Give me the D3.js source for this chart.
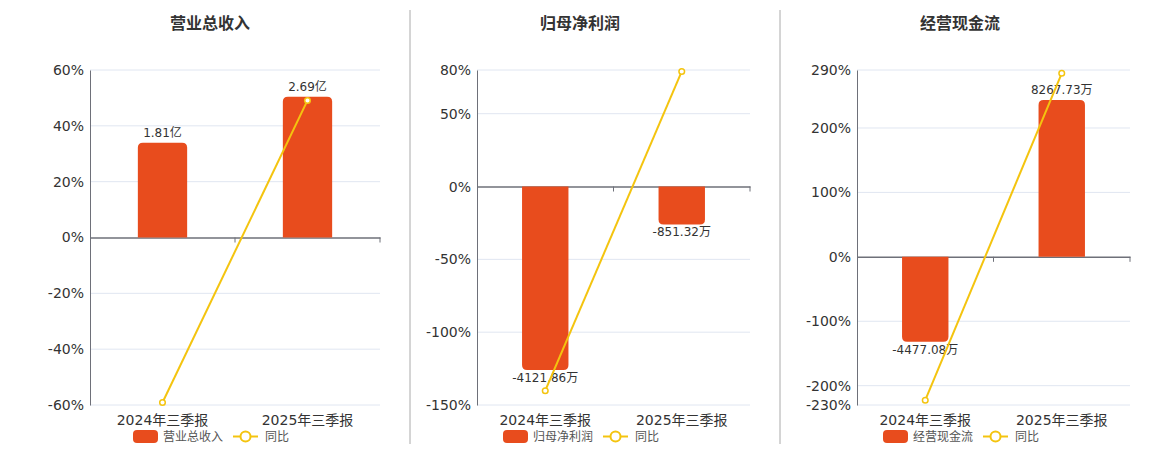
<!DOCTYPE html>
<html lang="zh">
<head>
<meta charset="UTF-8">
<title>财务指标</title>
<script src="https://d3js.org/d3.v7.min.js"></script>
<style>
  body { margin: 0; background: #fff; }
  svg { display: block; font-family: "DejaVu Sans", "Noto Sans CJK SC", sans-serif; }
  .title { font-size: 16px; font-weight: bold; fill: #333; }
  .tick-label { font-size: 14px; fill: #333; }
  .cat-label { font-size: 14px; fill: #333; }
  .val-label { font-size: 12px; fill: #333; }
  .legend-label { font-size: 12px; fill: #555; }
</style>
</head>
<body>
<svg id="chart" width="1160" height="450"></svg>
<script>
// ---- data ----
const categories = ["2024年三季报", "2025年三季报"];
const titles = ["营业总收入", "归母净利润", "经营现金流"];

const revenue = [1.81, 2.69];              // 亿
const netProfit = [-4121.86, -851.32];     // 万
const cashFlow = [-4477.08, 8267.73];      // 万

const revenueLabels = ["1.81亿", "2.69亿"];
const netProfitLabels = ["-4121.86万", "-851.32万"];
const cashFlowLabels = ["-4477.08万", "8267.73万"];

const revenueYoy = [-59.1, 49.1];          // %
const netProfitYoy = [-140.2, 79.0];
const cashFlowYoy = [-222.6, 284.9];

const revenueTicks = [60, 40, 20, 0, -20, -40, -60];
const netProfitTicks = [80, 50, 0, -50, -100, -150];
const cashFlowTicks = [290, 200, 100, 0, -100, -200, -230];

const panels = [
  { title: titles[0], bars: revenue, labels: revenueLabels, yoy: revenueYoy, ticks: revenueTicks,
    left: 90, right: 380, cx: 210 },
  { title: titles[1], bars: netProfit, labels: netProfitLabels, yoy: netProfitYoy, ticks: netProfitTicks,
    left: 477, right: 750, cx: 580 },
  { title: titles[2], bars: cashFlow, labels: cashFlowLabels, yoy: cashFlowYoy, ticks: cashFlowTicks,
    left: 857, right: 1130, cx: 960 }
];

const plotTop = 70, plotBottom = 405;
const barColor = "#e84c1d", lineColor = "#f4c40f";
const axisColor = "#6e7079", gridColor = "#e0e6f1";

const svg = d3.select("#chart");

// separators between panels
[410, 780].forEach(x => {
  svg.append("line").attr("x1", x).attr("x2", x).attr("y1", 10).attr("y2", 444)
    .attr("stroke", "#aaa").attr("stroke-width", 1);
});

function roundedBar(x, w, y0, y1, r) {
  // rounded at the far end (y1) away from zero (y0)
  const up = y1 < y0;
  const h = Math.abs(y1 - y0);
  r = Math.min(r, h / 2, w / 2);
  if (up) {
    return `M${x},${y0}V${y1 + r}Q${x},${y1} ${x + r},${y1}H${x + w - r}Q${x + w},${y1} ${x + w},${y1 + r}V${y0}Z`;
  }
  return `M${x},${y0}V${y1 - r}Q${x},${y1} ${x + r},${y1}H${x + w - r}Q${x + w},${y1} ${x + w},${y1 - r}V${y0}Z`;
}

panels.forEach(p => {
  const g = svg.append("g");
  const yMin = d3.min(p.ticks), yMax = d3.max(p.ticks);
  const y = d3.scaleLinear().domain([yMin, yMax]).range([plotBottom, plotTop]);
  const x = d3.scaleBand().domain(categories).range([p.left, p.right]);

  // bar axis: hidden, zero aligned with the percent axis
  const maxAbs = d3.max(p.bars, d => Math.abs(d));
  const big = p.bars.find(d => Math.abs(d) === maxAbs);
  const side = big >= 0 ? yMax : -yMin;
  const k = maxAbs / (0.84 * side);
  const yb = d3.scaleLinear().domain([yMin * k, yMax * k]).range([plotBottom, plotTop]);

  g.append("text").attr("class", "title").attr("x", p.cx).attr("y", 29)
    .attr("text-anchor", "middle").text(p.title);

  // grid lines
  g.selectAll(".grid").data(p.ticks.filter(t => t !== 0)).join("line")
    .attr("x1", p.left).attr("x2", p.right)
    .attr("y1", d => y(d)).attr("y2", d => y(d))
    .attr("stroke", gridColor).attr("stroke-width", 1);

  // y axis
  const yAxis = d3.axisLeft(y).tickValues(p.ticks).tickSize(0).tickPadding(6).tickFormat(d => d + "%");
  const ya = g.append("g").attr("transform", `translate(${p.left},0)`).call(yAxis);
  ya.select(".domain").attr("stroke", axisColor);
  ya.selectAll("text").attr("class", "tick-label");
  ya.attr("font-family", null).attr("font-size", null);

  // zero line with category ticks
  const x0 = y(0);
  const xAxis = d3.axisBottom(x).tickSize(0).tickFormat("");
  const xa = g.append("g").attr("transform", `translate(0,${x0})`).call(xAxis);
  xa.select(".domain").attr("stroke", axisColor).attr("stroke-width", 1.5);
  xa.selectAll(".tick").remove();
  const bounds = categories.map(c => x(c) + x.bandwidth());
  g.selectAll(".xtick").data(bounds).join("line")
    .attr("x1", d => d).attr("x2", d => d).attr("y1", x0).attr("y2", x0 + 5)
    .attr("stroke", axisColor);

  // category labels
  g.selectAll(".cat").data(categories).join("text")
    .attr("class", "cat-label")
    .attr("x", d => x(d) + x.bandwidth() / 2).attr("y", 425)
    .attr("text-anchor", "middle").text(d => d);

  // bars
  const bw = x.bandwidth() * 0.34;
  g.selectAll(".bar").data(p.bars).join("path")
    .attr("fill", barColor)
    .attr("d", (d, i) => roundedBar(x(categories[i]) + x.bandwidth() / 2 - bw / 2, bw, yb(0), yb(d), 5));

  // value labels
  g.selectAll(".val").data(p.bars).join("text")
    .attr("class", "val-label").attr("text-anchor", "middle")
    .attr("x", (d, i) => x(categories[i]) + x.bandwidth() / 2)
    .attr("y", d => d >= 0 ? yb(d) - 6 : yb(d) + 12)
    .text((d, i) => p.labels[i]);

  // yoy line
  const line = d3.line().x((d, i) => x(categories[i]) + x.bandwidth() / 2).y(d => y(d));
  g.append("path").datum(p.yoy).attr("d", line)
    .attr("fill", "none").attr("stroke", lineColor).attr("stroke-width", 2);
  g.selectAll(".pt").data(p.yoy).join("circle")
    .attr("cx", (d, i) => x(categories[i]) + x.bandwidth() / 2).attr("cy", d => y(d))
    .attr("r", 2.8).attr("fill", "#fff").attr("stroke", lineColor).attr("stroke-width", 1.5);

  // legend
  const lg = g.append("g").attr("transform", `translate(${p.cx - 77},0)`);
  lg.append("rect").attr("x", 0).attr("y", 430).attr("width", 25).attr("height", 13).attr("rx", 4)
    .attr("fill", barColor);
  const lbl = lg.append("text").attr("class", "legend-label").attr("x", 30).attr("y", 441).text(p.title);
  const lw = lbl.node().getComputedTextLength();
  const lx = 30 + lw + 10;
  lg.append("line").attr("x1", lx).attr("x2", lx + 25).attr("y1", 436.5).attr("y2", 436.5)
    .attr("stroke", lineColor).attr("stroke-width", 2);
  lg.append("circle").attr("cx", lx + 12.5).attr("cy", 436.5).attr("r", 5)
    .attr("fill", "#fff").attr("stroke", lineColor).attr("stroke-width", 2);
  lg.append("text").attr("class", "legend-label").attr("x", lx + 32).attr("y", 441).text("同比");
});
</script>
</body>
</html>
